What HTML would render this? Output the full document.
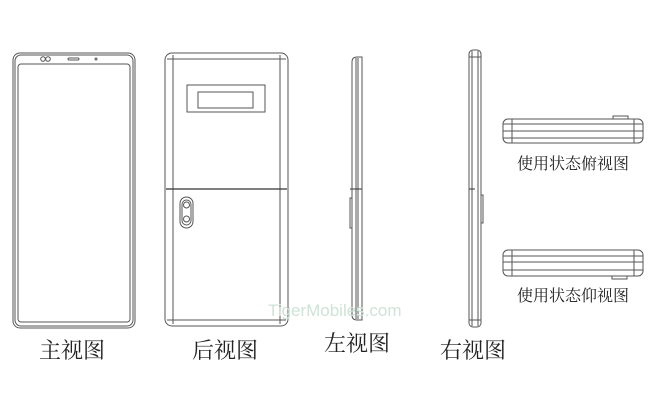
<!DOCTYPE html>
<html><head><meta charset="utf-8"><style>
html,body{margin:0;padding:0;background:#fff;}
svg{display:block}
text{font-family:"Liberation Serif","Noto Serif CJK SC",serif;fill:#222}
</style></head><body>
<svg width="660" height="407" viewBox="0 0 660 407" xmlns="http://www.w3.org/2000/svg">
<g fill="none" stroke="#555" stroke-width="1">
<!-- front view -->
<rect x="13" y="53" width="122" height="275" rx="7"/>
<rect x="15" y="55" width="118" height="271" rx="6"/>
<rect x="18" y="64" width="112" height="258" rx="3"/>
<circle cx="43" cy="59" r="2.3"/><circle cx="48" cy="59" r="2.3"/>
<rect x="68" y="58" width="11" height="2" rx="1"/>
<circle cx="96" cy="59" r="1"/>
<!-- back view -->
<rect x="165" y="53" width="123" height="273" rx="7"/>
<line x1="173" y1="55" x2="173" y2="324"/>
<line x1="280" y1="55" x2="280" y2="324"/>
<line x1="167" y1="59" x2="286" y2="59"/>
<line x1="167" y1="320" x2="286" y2="320"/>
<rect x="187" y="85" width="78" height="27"/>
<rect x="198" y="92" width="55" height="16"/>
<line x1="166" y1="189" x2="287" y2="189" stroke="#333" stroke-width="1.3"/>
<rect x="180" y="197" width="13" height="31" rx="6.5"/>
<rect x="182" y="200" width="9" height="25" rx="4.5"/>
<circle cx="186.5" cy="205" r="3"/><circle cx="186.5" cy="219" r="3"/>
<!-- left view -->
<path d="M352 62 Q352 57 357 57 L362 57 L362 320 L357 320 Q352 320 352 315 Z"/>
<line x1="356" y1="58" x2="356" y2="319"/>
<line x1="358" y1="58" x2="358" y2="319"/>
<line x1="350" y1="189" x2="362" y2="189" stroke="#333"/>
<rect x="350" y="198" width="2" height="30"/>
<!-- right view -->
<rect x="469" y="50" width="12" height="277" rx="4"/>
<line x1="472" y1="51" x2="472" y2="326"/>
<line x1="478" y1="51" x2="478" y2="326"/>
<line x1="469" y1="57" x2="481" y2="57"/>
<line x1="469" y1="320" x2="481" y2="320"/>
<line x1="469" y1="189" x2="475" y2="189" stroke="#333"/>
<rect x="481" y="195" width="2" height="28"/>
<!-- top usage view -->
<rect x="503" y="119" width="140" height="24" rx="5"/>
<line x1="503" y1="124" x2="643" y2="124"/>
<line x1="503" y1="131" x2="643" y2="131"/>
<line x1="503" y1="138" x2="643" y2="138"/>
<line x1="512" y1="119" x2="512" y2="143"/>
<line x1="634" y1="119" x2="634" y2="143"/>
<rect x="613" y="116" width="15" height="3"/>
<!-- bottom usage view -->
<rect x="503" y="250" width="140" height="26" rx="5"/>
<line x1="503" y1="256" x2="643" y2="256"/>
<line x1="503" y1="262" x2="643" y2="262"/>
<line x1="503" y1="270" x2="643" y2="270"/>
<line x1="512" y1="250" x2="512" y2="276"/>
<line x1="634" y1="250" x2="634" y2="276"/>
<rect x="612" y="276" width="15" height="3"/>
</g>
<text x="268" y="316" font-family="Liberation Sans,sans-serif" font-size="17" style="fill:#cfe3d8;font-family:'Liberation Sans',sans-serif">TigerMobiles.com</text>
<text x="72" y="358" font-size="22" text-anchor="middle">主视图</text>
<text x="225" y="358" font-size="22" text-anchor="middle">后视图</text>
<text x="357" y="351" font-size="22" text-anchor="middle">左视图</text>
<text x="473" y="358" font-size="22" text-anchor="middle">右视图</text>
<text x="573" y="169" font-size="16" text-anchor="middle">使用状态俯视图</text>
<text x="573" y="301" font-size="16" text-anchor="middle">使用状态仰视图</text>
</svg>
</body></html>
